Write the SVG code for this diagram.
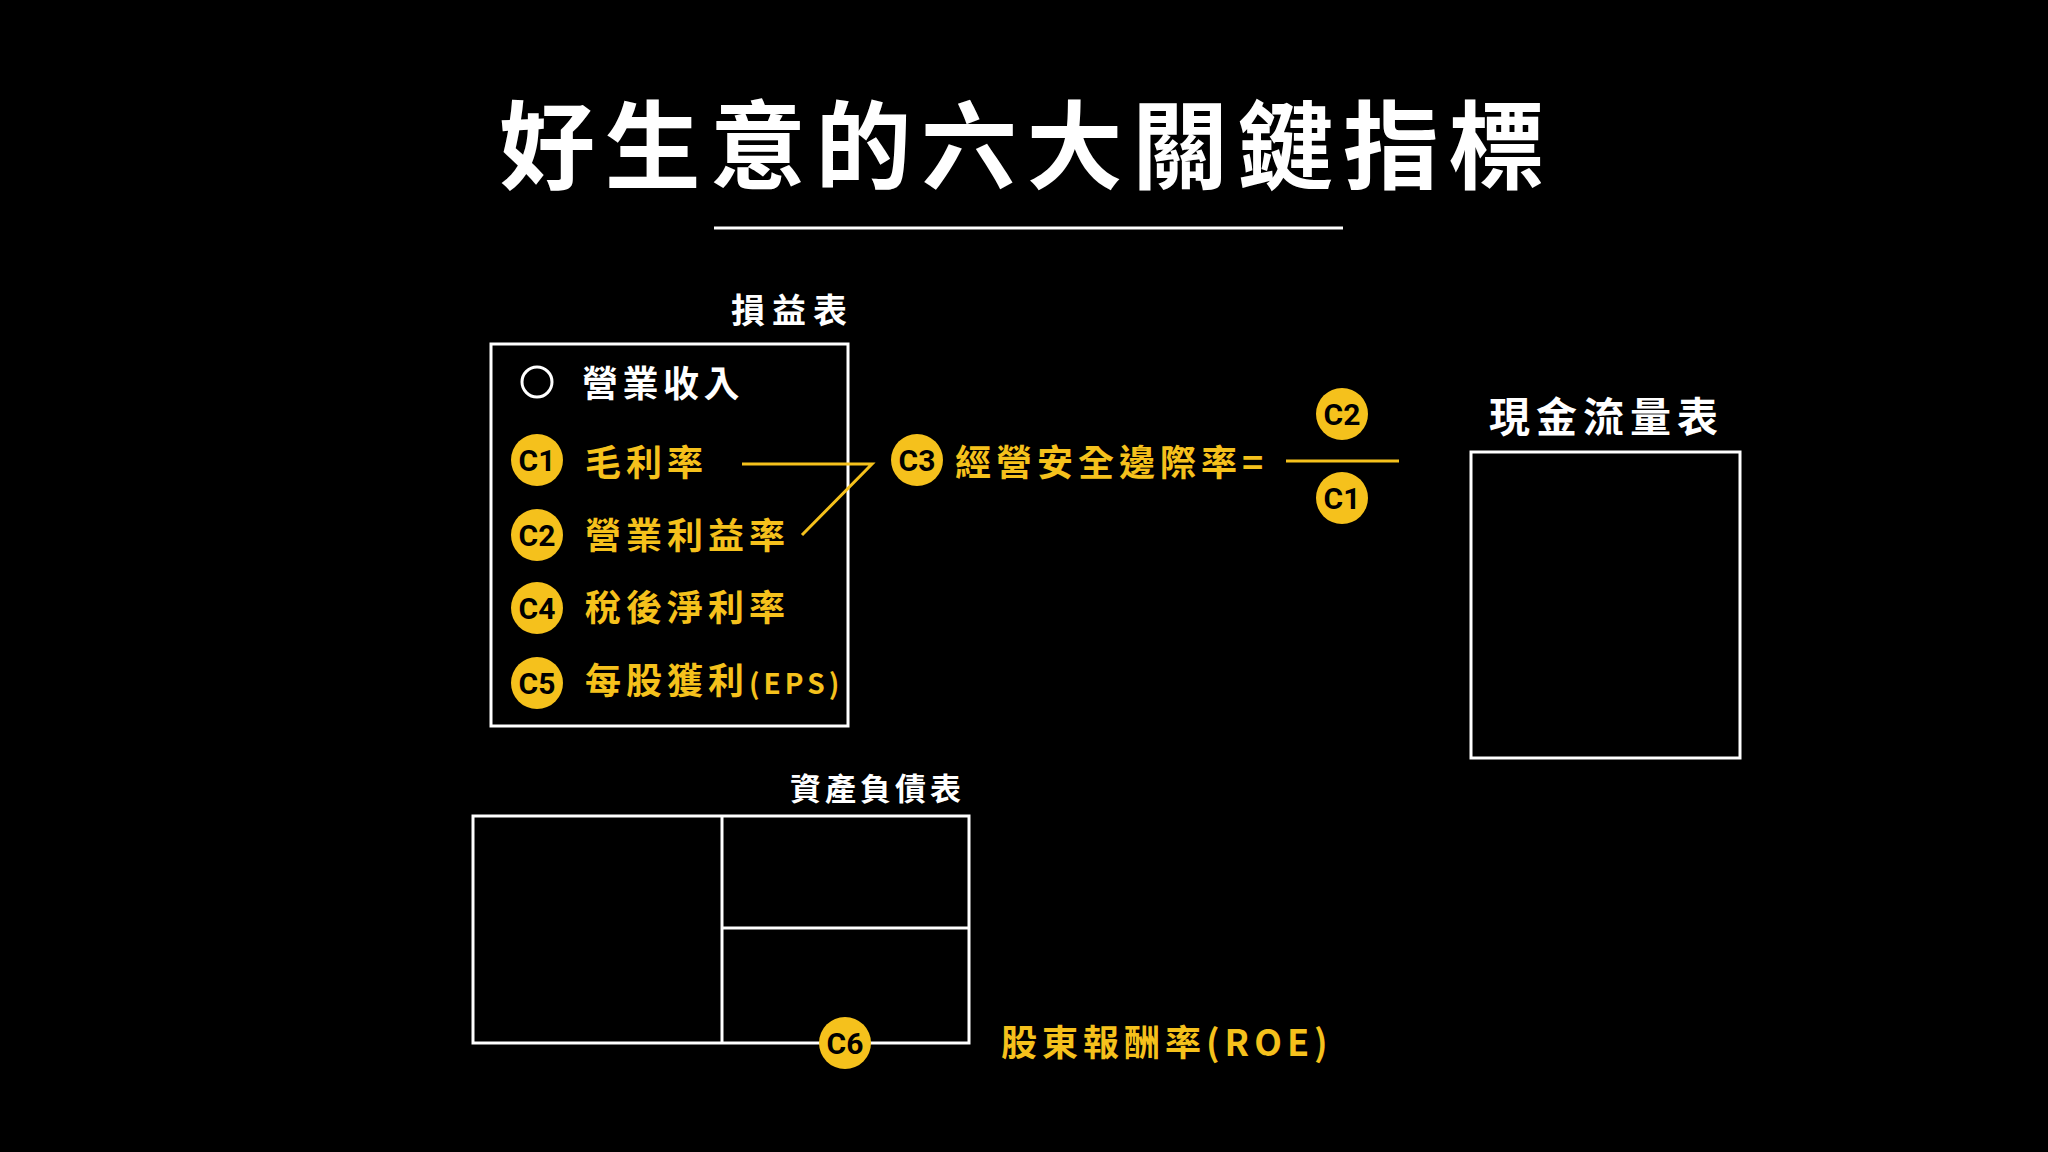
<svg xmlns="http://www.w3.org/2000/svg" width="2048" height="1152" viewBox="0 0 2048 1152">
<style>
.cjk{font-family:"Noto Sans CJK TC","Noto Sans CJK SC",sans-serif;font-weight:700}
.w{fill:#ffffff}
.y{fill:#F5C11C}
.box{fill:none;stroke:#ffffff;stroke-width:3}
.badge{fill:#F5C11C}
.bt{font-family:Roboto,"Liberation Sans",sans-serif;font-weight:700;font-size:30px;fill:#000000;text-anchor:middle}
.conn{fill:none;stroke:#F5C11C;stroke-width:3}
</style>
<rect x="0" y="0" width="2048" height="1152" fill="#000000"/>

<g id="title">
<text class="cjk w" x="499" y="181" font-size="96" letter-spacing="9.5">好生意的六大關鍵指標</text>
<line x1="714" y1="228" x2="1343" y2="228" stroke="#ffffff" stroke-width="3"/>
</g>

<g id="income-statement">
<text class="cjk w" x="731" y="323" font-size="34" letter-spacing="7">損益表</text>
<rect class="box" x="491" y="344" width="357" height="382"/>
</g>

<g id="item-revenue">
<circle cx="537" cy="382" r="15" fill="none" stroke="#ffffff" stroke-width="3"/>
<text class="cjk w" x="582" y="397" font-size="36" letter-spacing="4.5">營業收入</text>
</g>

<g id="item-c1">
<circle class="badge" cx="537" cy="460" r="26"/>
<text class="bt" x="537" y="471">C1</text>
<text class="cjk y" x="585" y="476" font-size="36" letter-spacing="5">毛利率</text>
</g>

<g id="item-c2">
<circle class="badge" cx="537" cy="535" r="26"/>
<text class="bt" x="537" y="546">C2</text>
<text class="cjk y" x="585" y="549" font-size="36" letter-spacing="5">營業利益率</text>
</g>

<g id="item-c4">
<circle class="badge" cx="537" cy="608" r="26"/>
<text class="bt" x="537" y="619">C4</text>
<text class="cjk y" x="585" y="621" font-size="36" letter-spacing="5">稅後淨利率</text>
</g>

<g id="item-c5">
<circle class="badge" cx="537" cy="683" r="26"/>
<text class="bt" x="537" y="694">C5</text>
<text class="cjk y" x="585" y="694" font-size="36" letter-spacing="5">每股獲利<tspan font-size="28" letter-spacing="4">(EPS)</tspan></text>
</g>

<g id="connectors">
<polyline class="conn" points="742,464 872,464 802,535"/>
</g>

<g id="formula-c3">
<circle class="badge" cx="917" cy="460" r="26"/>
<text class="bt" x="917" y="471">C3</text>
<text class="cjk y" x="955" y="476" font-size="36" letter-spacing="5">經營安全邊際率=</text>
<line x1="1286" y1="461" x2="1399" y2="461" stroke="#F5C11C" stroke-width="3"/>
<circle class="badge" cx="1342" cy="414" r="26"/>
<text class="bt" x="1342" y="425">C2</text>
<circle class="badge" cx="1342" cy="498" r="26"/>
<text class="bt" x="1342" y="509">C1</text>
</g>

<g id="cash-flow">
<text class="cjk w" x="1489" y="432" font-size="41" letter-spacing="6">現金流量表</text>
<rect class="box" x="1471" y="452" width="269" height="306"/>
</g>

<g id="balance-sheet">
<text class="cjk w" x="790" y="800" font-size="31" letter-spacing="4">資產負債表</text>
<rect class="box" x="473" y="816" width="496" height="227"/>
<line x1="722" y1="816" x2="722" y2="1043" stroke="#ffffff" stroke-width="3"/>
<line x1="722" y1="928" x2="969" y2="928" stroke="#ffffff" stroke-width="3"/>
</g>

<g id="roe">
<circle class="badge" cx="845" cy="1043" r="26"/>
<text class="bt" x="845" y="1054">C6</text>
<text class="cjk y" x="1001" y="1056" font-size="36" letter-spacing="5">股東報酬率(ROE)</text>
</g>
</svg>
